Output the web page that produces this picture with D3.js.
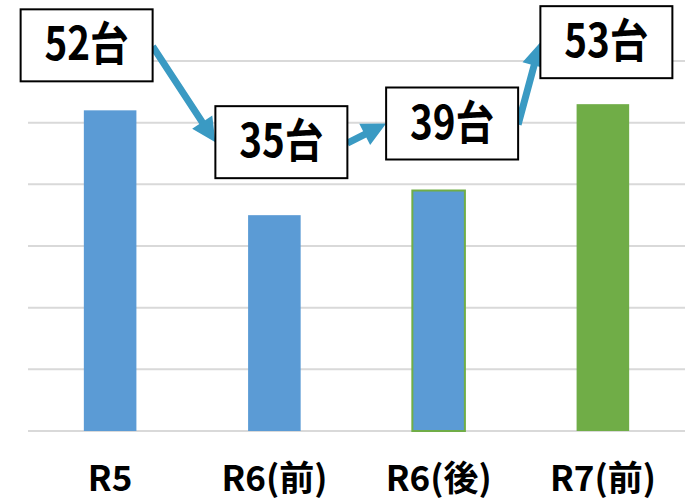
<!DOCTYPE html>
<html><head><meta charset="utf-8">
<script src="https://cdn.jsdelivr.net/npm/d3@7"></script>
<style>body{margin:0;background:#fff}</style>
</head><body>
<svg id="c" width="686" height="500"></svg>
<script>
const categories = ["R5", "R6(前)", "R6(後)", "R7(前)"];
const values = [52, 35, 39, 53];
const labels = ["52台", "35台", "39台", "53台"];
const yTicks = [0, 10, 20, 30, 40, 50, 60];
const barColors = ["#5B9BD5", "#5B9BD5", "#5B9BD5", "#70AD47"];
const barStrokes = [null, null, "#70AD47", null];
// annotation box layout offsets (px) relative to bar centre / bar top
const boxDx = [-23.5, 7, 13.5, 3.5];
const boxDy = [-65, -73, -67, -62];

const W = 686, H = 500;
const svg = d3.select("#c");
const x = d3.scaleBand().domain(categories).range([28, 685]).paddingInner(0.68).paddingOuter(0.34);
const y = d3.scaleLinear().domain([0, 60]).range([431, 61]);
const font = "'Noto Sans CJK JP','Noto Sans',sans-serif";

// gridlines
svg.append("g").selectAll("line").data(yTicks).join("line")
  .attr("x1", 28).attr("x2", 685)
  .attr("y1", d => y(d)).attr("y2", d => y(d))
  .attr("stroke", "#D9D9D9").attr("stroke-width", 2);

// bars
svg.append("g").selectAll("rect").data(values).join("rect")
  .attr("x", (d, i) => x(categories[i]))
  .attr("width", x.bandwidth())
  .attr("y", d => y(d))
  .attr("height", d => y(0) - y(d))
  .attr("fill", (d, i) => barColors[i])
  .attr("stroke", (d, i) => barStrokes[i] || "none")
  .attr("stroke-width", 2);

// x axis labels
const xAxis = d3.axisBottom(x).tickSize(0).tickPadding(0);
const gx = svg.append("g").attr("transform", `translate(0,${y(0)})`).call(xAxis);
gx.select(".domain").remove();
gx.selectAll("text").attr("dy", 0).attr("y", 60)
  .attr("font-family", font).attr("font-weight", 700).attr("font-size", 35).attr("fill", "#000");

// boxes
const bw = 132, bh = 72;
const boxes = values.map((v, i) => ({
  cx: x(categories[i]) + x.bandwidth() / 2 + boxDx[i],
  cy: y(v) + boxDy[i]
}));

// arrows
const arrowColor = "#3A9AC3";
function arrowPath(x1, y1, x2, y2) {
  const dx = x2 - x1, dy = y2 - y1, L = Math.hypot(dx, dy);
  const ux = dx / L, uy = dy / L, nx = -uy, ny = ux;
  const hl = 24, hw = 12, sw = 3.5;
  const bx = x2 - ux * hl, by = y2 - uy * hl;
  const pts = [
    [x1 + nx * sw, y1 + ny * sw], [bx + nx * sw, by + ny * sw], [bx + nx * hw, by + ny * hw],
    [x2, y2], [bx - nx * hw, by - ny * hw], [bx - nx * sw, by - ny * sw], [x1 - nx * sw, y1 - ny * sw]
  ];
  return "M" + pts.map(p => p.join(",")).join("L") + "Z";
}
for (let i = 0; i < boxes.length - 1; i++) {
  const a = boxes[i], b = boxes[i + 1];
  svg.append("path")
    .attr("d", arrowPath(a.cx + bw / 2, a.cy + 1, b.cx - bw / 2, b.cy))
    .attr("fill", arrowColor);
}

const gb = svg.append("g").selectAll("g").data(boxes).join("g")
  .attr("transform", d => `translate(${d.cx},${d.cy})`);
gb.append("rect").attr("x", -bw / 2).attr("y", -bh / 2).attr("width", bw).attr("height", bh)
  .attr("fill", "#fff").attr("stroke", "#000").attr("stroke-width", 2);
gb.append("text").text((d, i) => labels[i])
  .attr("text-anchor", "middle").attr("y", 15)
  .attr("transform", "scale(0.84,1)")
  .attr("font-family", font).attr("font-weight", 700).attr("font-size", 46).attr("fill", "#000");
</script>
</body></html>
